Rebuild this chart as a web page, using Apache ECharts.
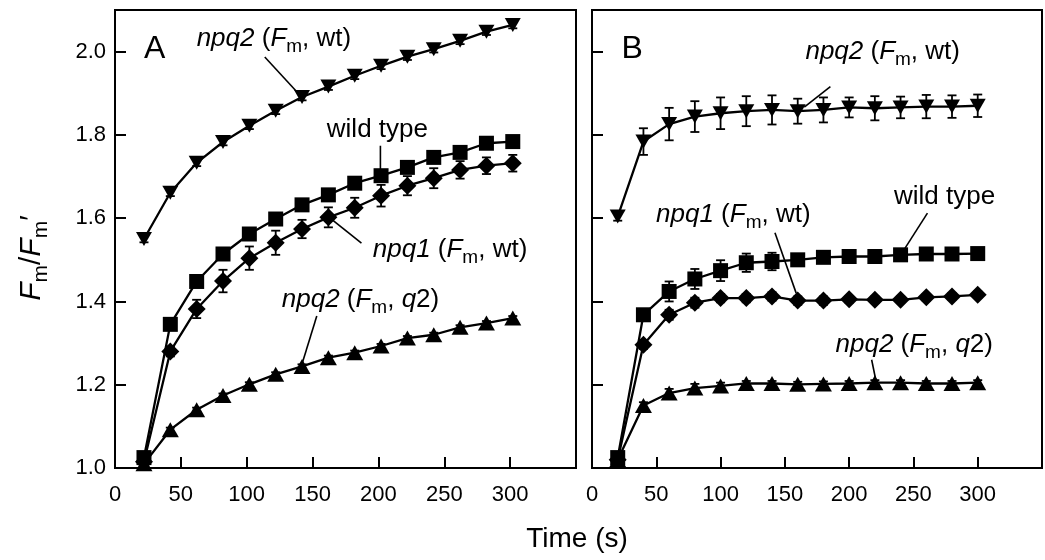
<!DOCTYPE html>
<html><head><meta charset="utf-8">
<script src="https://cdn.jsdelivr.net/npm/echarts@6/dist/echarts.min.js"></script>
<style>html,body{margin:0;padding:0;background:#fff}#c{width:1045px;height:560px}</style>
</head><body><div id="c"></div>
<script>
// ---------- data ----------
const timeA = [22,42,62,82,102,122,142,162,182,202,222,242,262,282,302];
const timeB = [20,40,60,80,100,120,140,160,180,200,220,240,260,280,300];
const xTickLabels = ['0','50','100','150','200','250','300'];
const yTickLabels = ['1.0','1.2','1.4','1.6','1.8','2.0'];

// Panel A
const A_npq2wt     = [1.550,1.661,1.733,1.783,1.822,1.858,1.891,1.916,1.942,1.966,1.988,2.006,2.026,2.048,2.064];
const A_npq2wt_err = [0.008,0.008,0.008,0.008,0.008,0.008,0.008,0.008,0.008,0.008,0.008,0.008,0.008,0.008,0.008];
const A_wt         = [1.025,1.345,1.448,1.514,1.562,1.598,1.632,1.656,1.684,1.702,1.722,1.746,1.758,1.780,1.784];
const A_wt_err     = [0.005,0.010,0.010,0.010,0.012,0.012,0.010,0.010,0.010,0.012,0.010,0.010,0.010,0.010,0.010];
const A_npq1       = [1.015,1.280,1.382,1.449,1.504,1.541,1.574,1.602,1.625,1.654,1.678,1.696,1.716,1.726,1.732];
const A_npq1_err   = [0.005,0.012,0.022,0.027,0.028,0.029,0.022,0.024,0.024,0.026,0.023,0.024,0.021,0.020,0.020];
const A_npq2q2     = [1.010,1.092,1.140,1.174,1.201,1.225,1.244,1.265,1.277,1.293,1.312,1.320,1.338,1.348,1.360];
const A_npq2q2_err = [0.004,0.005,0.005,0.005,0.005,0.005,0.005,0.005,0.005,0.005,0.005,0.005,0.005,0.005,0.005];

// Panel B
const B_npq2wt     = [1.604,1.784,1.826,1.844,1.852,1.857,1.860,1.857,1.860,1.866,1.864,1.866,1.868,1.868,1.870];
const B_npq2wt_err = [0.010,0.032,0.039,0.037,0.038,0.036,0.035,0.030,0.030,0.024,0.029,0.026,0.028,0.027,0.027];
const B_wt         = [1.025,1.368,1.424,1.454,1.474,1.493,1.496,1.500,1.506,1.508,1.508,1.512,1.514,1.514,1.515];
const B_wt_err     = [0.005,0.010,0.024,0.024,0.025,0.022,0.021,0.010,0.010,0.008,0.008,0.008,0.008,0.008,0.012];
const B_npq1       = [1.020,1.296,1.368,1.397,1.408,1.408,1.412,1.402,1.402,1.405,1.404,1.404,1.410,1.412,1.416];
const B_npq1_err   = [0.005,0.010,0.012,0.012,0.010,0.010,0.010,0.010,0.010,0.008,0.008,0.008,0.008,0.008,0.008];
const B_npq2q2     = [1.020,1.150,1.180,1.192,1.197,1.203,1.203,1.201,1.202,1.203,1.205,1.205,1.203,1.203,1.205];
const B_npq2q2_err = [0.005,0.008,0.010,0.010,0.008,0.006,0.006,0.006,0.006,0.006,0.006,0.006,0.006,0.006,0.006];

// ---------- layout / styles ----------
const FONT = '"Liberation Sans", Arial, sans-serif';
const richStyles = {
  i: {fontStyle:'italic', fontSize:26, fontFamily:FONT, lineHeight:32, fill:'#000'},
  n: {fontSize:26, fontFamily:FONT, lineHeight:32, fill:'#000'},
  s: {fontSize:19, fontFamily:FONT, lineHeight:14, padding:[16,0,0,0], fill:'#000'}
};
const annotations = [
  {panel:0, text:'{n|A}', big:true, x:22, y:2.005, line:null},
  {panel:0, text:'{i|npq2}{n| (}{i|F}{s|m}{n|, wt)}', x:62, y:2.03, line:[[113.7,1.987],[140.3,1.896]]},
  {panel:0, text:'{n|wild type}', x:160.8, y:1.812, line:[[201.5,1.774],[201.5,1.709]]},
  {panel:0, text:'{i|npq1}{n| (}{i|F}{s|m}{n|, wt)}', x:195.7, y:1.524, line:[[187.1,1.540],[165,1.596]]},
  {panel:0, text:'{i|npq2}{n| (}{i|F}{s|m}{n|, }{i|q}{n|2)}', x:126.6, y:1.404, line:[[153.2,1.365],[141.8,1.248]]},
  {panel:1, text:'{n|B}', big:true, x:23, y:2.005, line:null},
  {panel:1, text:'{i|npq2}{n| (}{i|F}{s|m}{n|, wt)}', x:166, y:2.0, line:[[185.4,1.916],[165.1,1.867]]},
  {panel:1, text:'{i|npq1}{n| (}{i|F}{s|m}{n|, wt)}', x:49.8, y:1.608, line:[[142.3,1.565],[158.8,1.42]]},
  {panel:1, text:'{n|wild type}', x:234.9, y:1.651, line:[[260.9,1.612],[243.5,1.528]]},
  {panel:1, text:'{i|npq2}{n| (}{i|F}{s|m}{n|, }{i|q}{n|2)}', x:189.4, y:1.296, line:[[217.5,1.260],[220.7,1.212]]}
];

function zip(xs, ys){ return xs.map((x,i)=>[x, ys[i]]); }

function lineSeries(idx, xs, ys, symbol, size, rot){
  return {type:'line', xAxisIndex:idx, yAxisIndex:idx, data:zip(xs,ys), symbol:symbol,
    symbolSize:size, symbolRotate:rot||0, showSymbol:true, z:5, silent:true, animation:false,
    itemStyle:{color:'#000', borderWidth:0}, lineStyle:{color:'#000', width:2.3}};
}
function errSeries(idx, xs, ys, es){
  return {type:'custom', xAxisIndex:idx, yAxisIndex:idx, z:2, silent:true, animation:false,
    data: xs.map((x,i)=>[x, ys[i]-es[i], ys[i]+es[i]]),
    encode:{x:0, y:[1,2]},
    renderItem:(params, api)=>{
      const lo = api.coord([api.value(0), api.value(1)]);
      const hi = api.coord([api.value(0), api.value(2)]);
      const w = 4.5, st = {stroke:'#000', lineWidth:1.8};
      return {type:'group', children:[
        {type:'line', shape:{x1:lo[0],y1:lo[1],x2:hi[0],y2:hi[1]}, style:st},
        {type:'line', shape:{x1:lo[0]-w,y1:lo[1],x2:lo[0]+w,y2:lo[1]}, style:st},
        {type:'line', shape:{x1:hi[0]-w,y1:hi[1],x2:hi[0]+w,y2:hi[1]}, style:st}
      ]};
    }};
}

function xAxisCfg(idx){
  return {type:'value', gridIndex:idx, min:0, max:350, interval:50,
    axisLine:{show:true, onZero:false, lineStyle:{color:'#000', width:2}},
    axisTick:{show:true, inside:true, length:11, lineStyle:{color:'#000', width:2}},
    axisLabel:{show:true, color:'#000', fontSize:22, fontFamily:FONT, margin:16,
      formatter:v=>{ const k = Math.round(v/50); return (k>=0 && k<xTickLabels.length) ? xTickLabels[k] : ''; }},
    splitLine:{show:false}};
}
function yAxisCfg(idx, showLabels){
  return {type:'value', gridIndex:idx, min:1.0, max:2.1, interval:0.2,
    axisLine:{show:true, lineStyle:{color:'#000', width:2}},
    axisTick:{show:true, inside:true, length:11, lineStyle:{color:'#000', width:2}},
    axisLabel:{show:showLabels, color:'#000', fontSize:22, fontFamily:FONT, margin:9,
      formatter:v=>{ const k = Math.round((v-1.0)/0.2); return (Math.abs(v-(1+k*0.2))<1e-6 && k>=0 && k<yTickLabels.length) ? yTickLabels[k] : ''; }},
    splitLine:{show:false}};
}

const SQ = 15, DI = [18,18], TU = [17,15], TD = [16,14];
const option = {
  animation:false,
  backgroundColor:'#fff',
  grid:[
    {left:115, top:10, width:461, height:458, show:true, borderColor:'#000', borderWidth:2, backgroundColor:'transparent'},
    {left:592, top:10, width:461, height:458, show:true, borderColor:'#000', borderWidth:2, backgroundColor:'transparent'}
  ],
  xAxis:[xAxisCfg(0), xAxisCfg(1)],
  yAxis:[yAxisCfg(0,true), yAxisCfg(1,false)],
  series:[
    errSeries(0, timeA, A_npq2wt, A_npq2wt_err),
    errSeries(0, timeA, A_wt, A_wt_err),
    errSeries(0, timeA, A_npq1, A_npq1_err),
    errSeries(0, timeA, A_npq2q2, A_npq2q2_err),
    lineSeries(0, timeA, A_npq2q2, 'triangle', TU, 0),
    lineSeries(0, timeA, A_npq1, 'diamond', DI, 0),
    lineSeries(0, timeA, A_wt, 'rect', SQ, 0),
    lineSeries(0, timeA, A_npq2wt, 'triangle', TD, 180),
    errSeries(1, timeB, B_npq2wt, B_npq2wt_err),
    errSeries(1, timeB, B_wt, B_wt_err),
    errSeries(1, timeB, B_npq1, B_npq1_err),
    errSeries(1, timeB, B_npq2q2, B_npq2q2_err),
    lineSeries(1, timeB, B_npq2q2, 'triangle', TU, 0),
    lineSeries(1, timeB, B_npq1, 'diamond', DI, 0),
    lineSeries(1, timeB, B_wt, 'rect', SQ, 0),
    lineSeries(1, timeB, B_npq2wt, 'triangle', TD, 180)
  ]
};

const chart = echarts.init(document.getElementById('c'), null, {renderer:'canvas'});
chart.setOption(option);

const gfx = [];
annotations.forEach(a=>{
  if (a.line){
    const p1 = chart.convertToPixel({gridIndex:a.panel}, a.line[0]);
    const p2 = chart.convertToPixel({gridIndex:a.panel}, a.line[1]);
    gfx.push({type:'line', z:10, silent:true, shape:{x1:p1[0],y1:p1[1],x2:p2[0],y2:p2[1]}, style:{stroke:'#000', lineWidth:1.6}});
  }
  const tp = chart.convertToPixel({gridIndex:a.panel}, [a.x, a.y]);
  const rich = a.big ? {n:{fontSize:32, fontFamily:FONT, fill:'#000'}} : richStyles;
  gfx.push({type:'text', z:10, silent:true, x:tp[0], y:tp[1],
    style:{text:a.text, rich:rich, align:'left', verticalAlign:'middle', fill:'#000'}});
});
// axis titles
gfx.push({type:'text', z:10, silent:true, x:577, y:539,
  style:{text:'Time (s)', fontSize:28, fontFamily:FONT, fill:'#000', align:'center', verticalAlign:'middle'}});
gfx.push({type:'text', z:10, silent:true, x:32, y:258, rotation:Math.PI/2,
  style:{text:'{i|F}{s|m}{n|/}{i|F}{s|m}{p|′}',
    rich:{i:{fontStyle:'italic', fontSize:30, fontFamily:FONT, lineHeight:36, fill:'#000'},
          n:{fontSize:30, fontFamily:FONT, lineHeight:36, fill:'#000'},
          s:{fontSize:21, fontFamily:FONT, lineHeight:16, padding:[18,0,0,0], fill:'#000'},
          p:{fontSize:30, fontFamily:FONT, lineHeight:36, fill:'#000'}},
    align:'center', verticalAlign:'middle'}});
chart.setOption({graphic:{elements:gfx}});
</script>
</body></html>
